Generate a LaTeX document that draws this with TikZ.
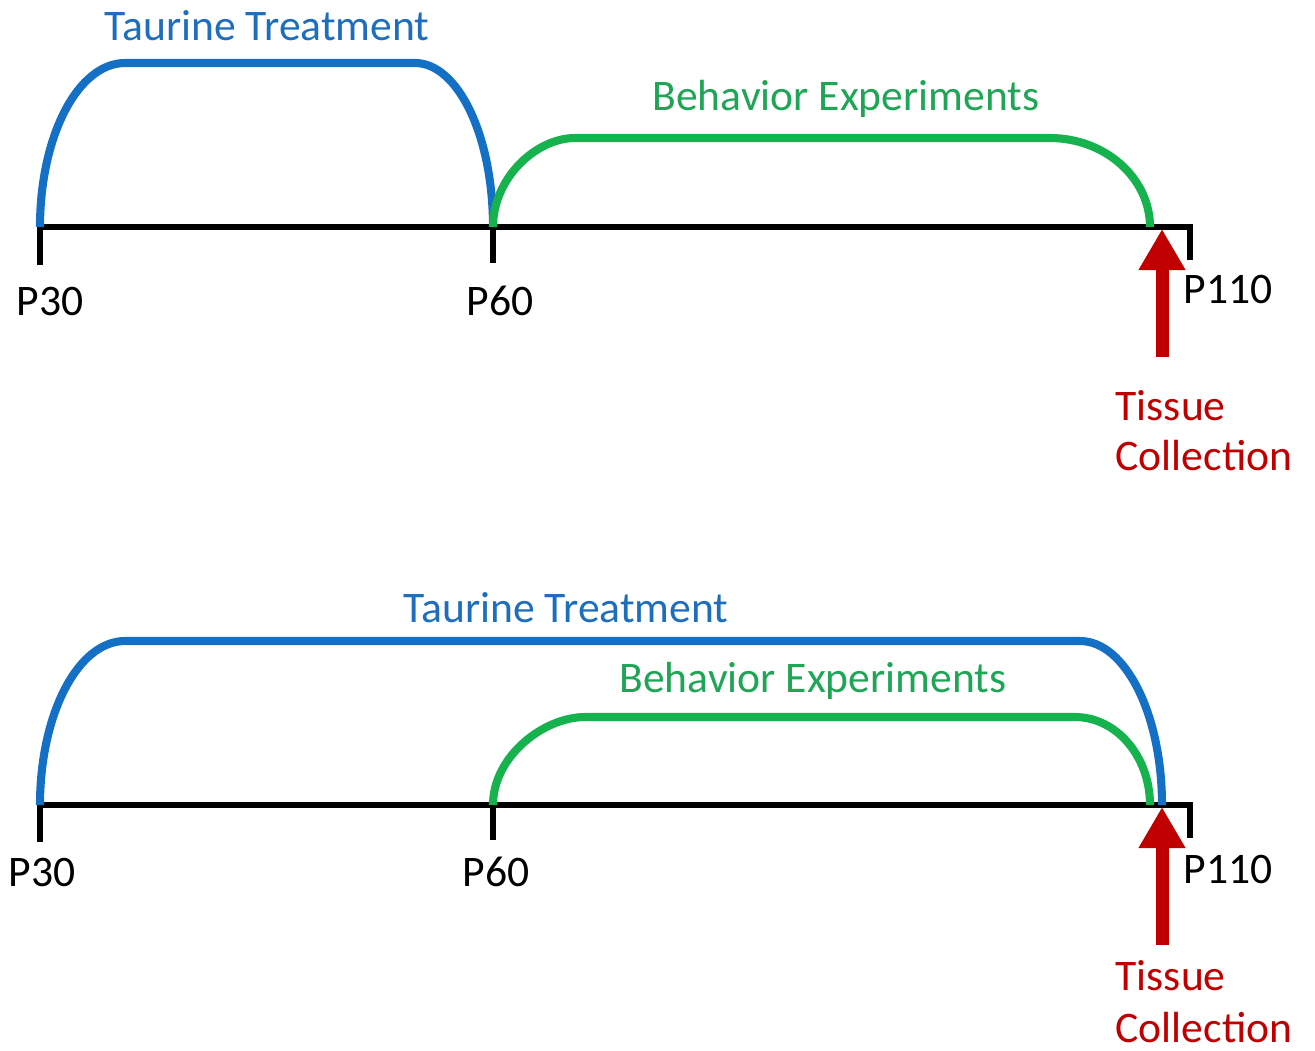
\documentclass[tikz,border=0pt]{standalone}
\usepackage{fontspec}
\setmainfont{Carlito}
\usetikzlibrary{arrows.meta}
\definecolor{taurblue}{RGB}{20,112,196}
\definecolor{taurtext}{RGB}{30,110,190}
\definecolor{behgreen}{RGB}{22,178,78}
\definecolor{behtext}{RGB}{30,165,85}
\definecolor{tissred}{RGB}{192,0,0}
\begin{document}
\begin{tikzpicture}[x=0.01cm,y=-0.01cm,
    axis/.style={line width=1.45pt, line join=miter},
    taurine/.style={line width=2.3pt, taurblue},
    behavior/.style={line width=2.3pt, behgreen},
    tissuearrow/.style={line width=3.7pt, tissred, -{Triangle[width=0.44cm,length=0.41cm]}},
    lbl/.style={font=\fontsize{12.4}{15}\selectfont, inner sep=0pt}]
    \useasboundingbox (0,0) rectangle (1315,1050);

    % Premier protocole : traitement P30-P60
    \coordinate (a30) at (40,227);
    \coordinate (a60) at (493,227);
    \coordinate (a110) at (1190,227);
    \coordinate (aT) at (1162,229);
    \coordinate (aB) at (1162,357);
    % Axe du temps
    \draw[axis] (40,265) -- (a30) -- (a110) -- (1190,260);
    \draw[axis] (a60) -- (493,263);
    % Traitement (bleu)
    \draw[taurine] (a30) .. controls (40,136) and (78,63) .. (125,63)
        -- (415,63) .. controls (458,63) and (493,136) .. (a60);
    % Experiences (vert)
    \draw[behavior] (a60) .. controls (493,178) and (536,138) .. (575,138)
        -- (1050,138) .. controls (1105,138) and (1150,178) .. (1150,227);
    \node[lbl, anchor=base, text=taurtext] (taurA) at (267,40) {Taurine Treatment};
    \node[lbl, anchor=base, text=behtext] (behA) at (846,110) {Behavior Experiments};
    \node[lbl, anchor=base] (p30A) at (50,315) {P30};
    \node[lbl, anchor=base] (p60A) at (500,315) {P60};
    \node[lbl, anchor=base] (p110A) at (1228,303) {P110};
    % Prelevement
    \draw[tissuearrow] (aB) -- (aT);
    \node[lbl, anchor=base west, text=tissred] (tisA) at (1115,420) {Tissue};
    \node[lbl, anchor=base west, text=tissred] (colA) at (1115,470) {Collection};

    % Second protocole : traitement P30-P110
    \coordinate (b30) at (40,805);
    \coordinate (b60) at (493,805);
    \coordinate (b110) at (1190,805);
    \coordinate (bT) at (1162,807);
    \coordinate (bB) at (1162,945);
    \draw[axis] (40,842) -- (b30) -- (b110) -- (1190,838);
    \draw[axis] (b60) -- (493,840);
    % Experiences (vert)
    \draw[behavior] (b60) .. controls (493,756) and (544,717) .. (585,717)
        -- (1075,717) .. controls (1116,717) and (1150,756) .. (1150,805);
    % Traitement (bleu)
    \draw[taurine] (b30) .. controls (40,714) and (78,641) .. (125,641)
        -- (1080,641) .. controls (1125,641) and (1162,714) .. (1162,805);
    \node[lbl, anchor=base, text=taurtext] (taurB) at (566,622) {Taurine Treatment};
    \node[lbl, anchor=base, text=behtext] (behB) at (813,692) {Behavior Experiments};
    \node[lbl, anchor=base] (p30B) at (42,886) {P30};
    \node[lbl, anchor=base] (p60B) at (496,886) {P60};
    \node[lbl, anchor=base] (p110B) at (1228,883) {P110};
    \draw[tissuearrow] (bB) -- (bT);
    \node[lbl, anchor=base west, text=tissred] (tisB) at (1115,990) {Tissue};
    \node[lbl, anchor=base west, text=tissred] (colB) at (1115,1042) {Collection};
\end{tikzpicture}
\end{document}
